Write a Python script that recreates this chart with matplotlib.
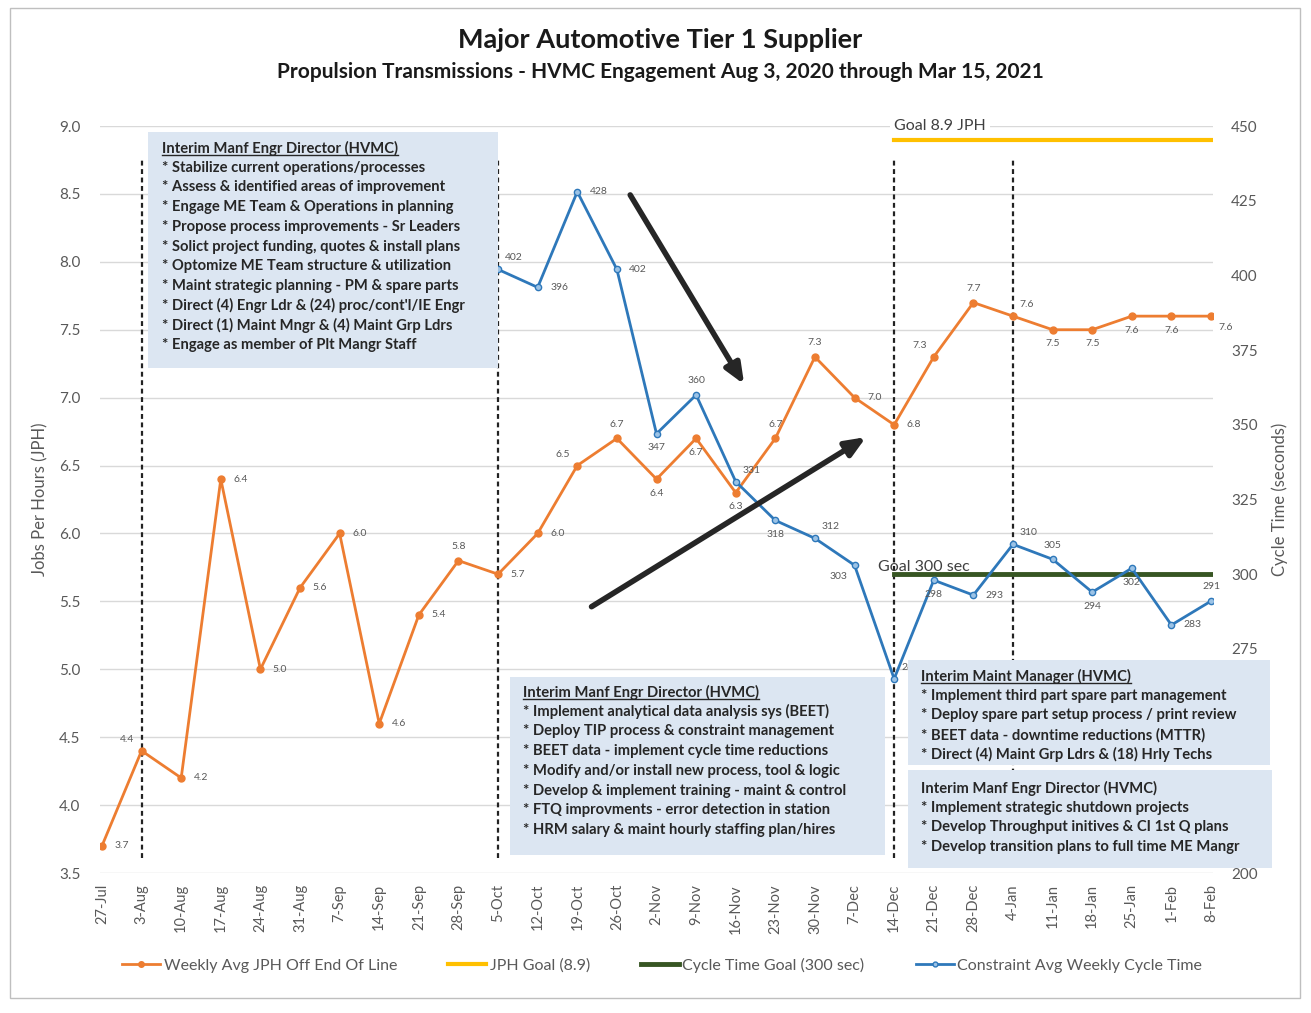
import matplotlib
matplotlib.use('Agg')
import matplotlib.pyplot as plt
import numpy as np
from matplotlib.patches import Rectangle
from matplotlib.lines import Line2D

plt.rcParams['font.family'] = ['Lato', 'DejaVu Sans']

weeks = ['27-Jul', '3-Aug', '10-Aug', '17-Aug', '24-Aug', '31-Aug', '7-Sep', '14-Sep',
         '21-Sep', '28-Sep', '5-Oct', '12-Oct', '19-Oct', '26-Oct', '2-Nov', '9-Nov',
         '16-Nov', '23-Nov', '30-Nov', '7-Dec', '14-Dec', '21-Dec', '28-Dec', '4-Jan',
         '11-Jan', '18-Jan', '25-Jan', '1-Feb', '8-Feb']
jph = [3.7, 4.4, 4.2, 6.4, 5.0, 5.6, 6.0, 4.6, 5.4, 5.8, 5.7, 6.0, 6.5, 6.7, 6.4, 6.7,
       6.3, 6.7, 7.3, 7.0, 6.8, 7.3, 7.7, 7.6, 7.5, 7.5, 7.6, 7.6, 7.6]
cycle = [np.nan] * 10 + [402, 396, 428, 402, 347, 360, 331, 318, 312, 303, 265, 298,
                         293, 310, 305, 294, 302, 283, 291]
jph_goal = [np.nan] * 20 + [8.9] * 9
ct_goal = [np.nan] * 20 + [300] * 9
phase_weeks = ['3-Aug', '5-Oct', '14-Dec', '4-Jan']

# label placement for each point
jph_pos = ['r', 'al', 'r', 'r', 'r', 'r', 'r', 'r', 'r', 'a', 'r', 'r', 'al', 'a', 'b', 'b',
           'b', 'a', 'a', 'r', 'r', 'al', 'a', 'ar', 'b', 'b', 'b', 'b', 'br']
ct_pos = [None] * 10 + ['ar', 'r', 'r', 'r', 'b', 'a', 'ar', 'b', 'ar', 'bl', 'ar', 'b',
                        'r', 'ar', 'a', 'b', 'b', 'r', 'a']

box1 = ['Interim Manf Engr Director (HVMC)',
        '* Stabilize current operations/processes',
        '* Assess & identified areas of improvement',
        '* Engage ME Team & Operations in planning',
        '* Propose process improvements - Sr Leaders',
        '* Solict project funding, quotes & install plans',
        '* Optomize ME Team structure & utilization',
        '* Maint strategic planning - PM & spare parts',
        "* Direct (4) Engr Ldr & (24) proc/cont'l/IE Engr",
        '* Direct (1) Maint Mngr & (4) Maint Grp Ldrs',
        '* Engage as member of Plt Mangr Staff']
box2 = ['Interim Manf Engr Director (HVMC)',
        '* Implement analytical data analysis sys (BEET)',
        '* Deploy TIP process & constraint management',
        '* BEET data - implement cycle time reductions',
        '* Modify and/or install new process, tool & logic',
        '* Develop & implement training - maint & control',
        '* FTQ improvments - error detection in station',
        '* HRM salary & maint hourly staffing plan/hires']
box3 = ['Interim Maint Manager (HVMC)',
        '* Implement third part spare part management',
        '* Deploy spare part setup process / print review',
        '* BEET data - downtime reductions (MTTR)',
        '* Direct (4) Maint Grp Ldrs & (18) Hrly Techs']
box4 = ['Interim Manf Engr Director (HVMC)',
        '* Implement strategic shutdown projects',
        '* Develop Throughput initives & CI 1st Q plans',
        '* Develop transition plans to full time ME Mangr']

ORANGE = '#ED7D31'
BLUE = '#2E78BA'
YELLOW = '#FFC000'
GREEN = '#375623'
GRAY = '#595959'
W, H = 1311, 1013

fig = plt.figure(figsize=(W / 100, H / 100), dpi=100)
ax = fig.add_axes([100 / W, 1 - 873 / H, 1113 / W, 747 / H])
ax2 = ax.twinx()
x = np.arange(len(weeks))

ax.set_xlim(-0.05, len(weeks) - 0.95)
ax.set_ylim(3.5, 9.0)
ax.set_yticks(np.arange(3.5, 9.01, 0.5))
ax.yaxis.set_major_formatter(matplotlib.ticker.FormatStrFormatter('%.1f'))
ax2.set_ylim(200, 450)
ax2.set_yticks(np.arange(200, 451, 25))
ax.grid(axis='y', color='#d9d9d9', lw=1)
ax.set_axisbelow(True)
for a in (ax, ax2):
    for s in a.spines.values():
        s.set_visible(False)
    a.tick_params(length=0, colors=GRAY, labelsize=11)
ax.tick_params(axis='y', pad=14)
ax2.tick_params(axis='y', pad=13)
ax.set_xticks(x)
ax.set_xticklabels(weeks, rotation=90, fontsize=10.5)
ax.tick_params(axis='x', pad=8)
ax.set_ylabel('Jobs Per Hours (JPH)', color=GRAY, fontsize=12, labelpad=8)
ax2.set_ylabel('Cycle Time (seconds)', color=GRAY, fontsize=12, labelpad=10)

for w in phase_weeks:
    ax.axvline(weeks.index(w), ymin=0.02, ymax=0.955, color='#222222', lw=1.6,
               ls=(0, (2.2, 1.6)), zorder=1)

ax.plot(x, jph, color=ORANGE, lw=2, marker='o', ms=5, zorder=4)
ax.plot(x, jph_goal, color=YELLOW, lw=3, zorder=4)
ax2.plot(x, ct_goal, color=GREEN, lw=3.5, zorder=3)
ax2.plot(x, cycle, color=BLUE, lw=2, marker='o', ms=4.5, mfc='#9cc3e6', mec=BLUE, zorder=4)

offs = {'r': (9, 0, 'left', 'center'), 'a': (0, 7, 'center', 'bottom'),
        'b': (0, -7, 'center', 'top'), 'ar': (5, 5, 'left', 'bottom'),
        'al': (-5, 5, 'right', 'bottom'), 'br': (5, -5, 'left', 'top'),
        'bl': (-5, -5, 'right', 'top')}
for i, v in enumerate(jph):
    dx, dy, ha, va = offs[jph_pos[i]]
    ax.annotate(f'{v:.1f}', (i, v), xytext=(dx, dy), textcoords='offset points',
                ha=ha, va=va, fontsize=7.5, color=GRAY, zorder=5)
for i, v in enumerate(cycle):
    if ct_pos[i] is None:
        continue
    dx, dy, ha, va = offs[ct_pos[i]]
    ax2.annotate(f'{v:.0f}', (i, v), xytext=(dx, dy), textcoords='offset points',
                 ha=ha, va=va, fontsize=7.5, color=GRAY, zorder=5)

ax.text(20, 9.0, 'Goal 8.9 JPH', fontsize=11.5, color='#404040', ha='left', va='center',
        bbox=dict(fc='white', ec='none', pad=3), zorder=2)
ax2.text(19.6, 300, 'Goal 300 sec', fontsize=11.5, color='#404040', ha='left',
         va='bottom', zorder=5)

# trend arrows
ax2.annotate('', xy=(16.25, 7.08), xytext=(13.3, 8.51), xycoords=ax.transData,
             textcoords=ax.transData,
             arrowprops=dict(arrowstyle='-|>,head_width=0.5,head_length=1.2', lw=4,
                             color='#262626'), zorder=6)
ax2.annotate('', xy=(19.35, 6.72), xytext=(12.3, 5.45), xycoords=ax.transData,
             textcoords=ax.transData,
             arrowprops=dict(arrowstyle='-|>,head_width=0.5,head_length=1.2', lw=4,
                             color='#262626'), zorder=6)

fig.suptitle('Major Automotive Tier 1 Supplier', x=660 / W, y=1 - 40 / H, va='center',
             fontsize=19.5, fontweight='bold', color='#1a1a1a')
fig.text(660 / W, 1 - 72 / H, 'Propulsion Transmissions - HVMC Engagement Aug 3, 2020 through Mar 15, 2021',
         ha='center', va='center', fontsize=15, fontweight='bold', color='#1a1a1a')

boxes = [(box1, 148, 132, 350, 236, 162, 148, True),
         (box2, 510, 677, 375, 178, 523, 692, True),
         (box3, 908, 660, 362, 105, 921, 676, True),
         (box4, 908, 770, 364, 98, 921, 788, False)]
titles = []
for lines, bx, by, bw, bh, tx, ty, ul in boxes:
    fig.add_artist(Rectangle((bx / W, 1 - (by + bh) / H), bw / W, bh / H,
                             transform=fig.transFigure, fc='#dce6f2', ec='none', zorder=10))
    t = fig.text(tx / W, 1 - ty / H, lines[0], ha='left', va='center', fontsize=10.6,
                 fontweight='bold', color='#262626', zorder=11)
    if ul:
        titles.append(t)
    for k, line in enumerate(lines[1:]):
        fig.text(tx / W, 1 - (ty + 19.7 * (k + 1)) / H, line, ha='left', va='center',
                 fontsize=10.6, fontweight='bold', color='#262626', zorder=11)

# underline the box titles
fig.canvas.draw()
r = fig.canvas.get_renderer()
for t in titles:
    bb = t.get_window_extent(r)
    yl = (bb.y0 + 1) / H
    fig.add_artist(Line2D([bb.x0 / W, bb.x1 / W], [yl, yl], transform=fig.transFigure,
                          color='#262626', lw=1, zorder=11))

handles = [Line2D([], [], color=ORANGE, lw=2, marker='o', ms=4),
           Line2D([], [], color=YELLOW, lw=3),
           Line2D([], [], color=GREEN, lw=3.5),
           Line2D([], [], color=BLUE, lw=2, marker='o', ms=3.5, mfc='#9cc3e6')]
labels = ['Weekly Avg JPH Off End Of Line', 'JPH Goal (8.9)', 'Cycle Time Goal (300 sec)',
          'Constraint Avg Weekly Cycle Time']
fig.legend(handles, labels, loc='center', bbox_to_anchor=(0.505, 1 - 965 / H), ncol=4,
           frameon=False, fontsize=11.5, labelcolor=GRAY, handlelength=2.4,
           handletextpad=0.2, columnspacing=3.2)

fig.add_artist(Rectangle((10 / W, 1 - 998 / H), 1290 / W, 990 / H, transform=fig.transFigure,
                         fc='none', ec='#bfbfbf', lw=1))

fig.savefig('out.png', dpi=100)
